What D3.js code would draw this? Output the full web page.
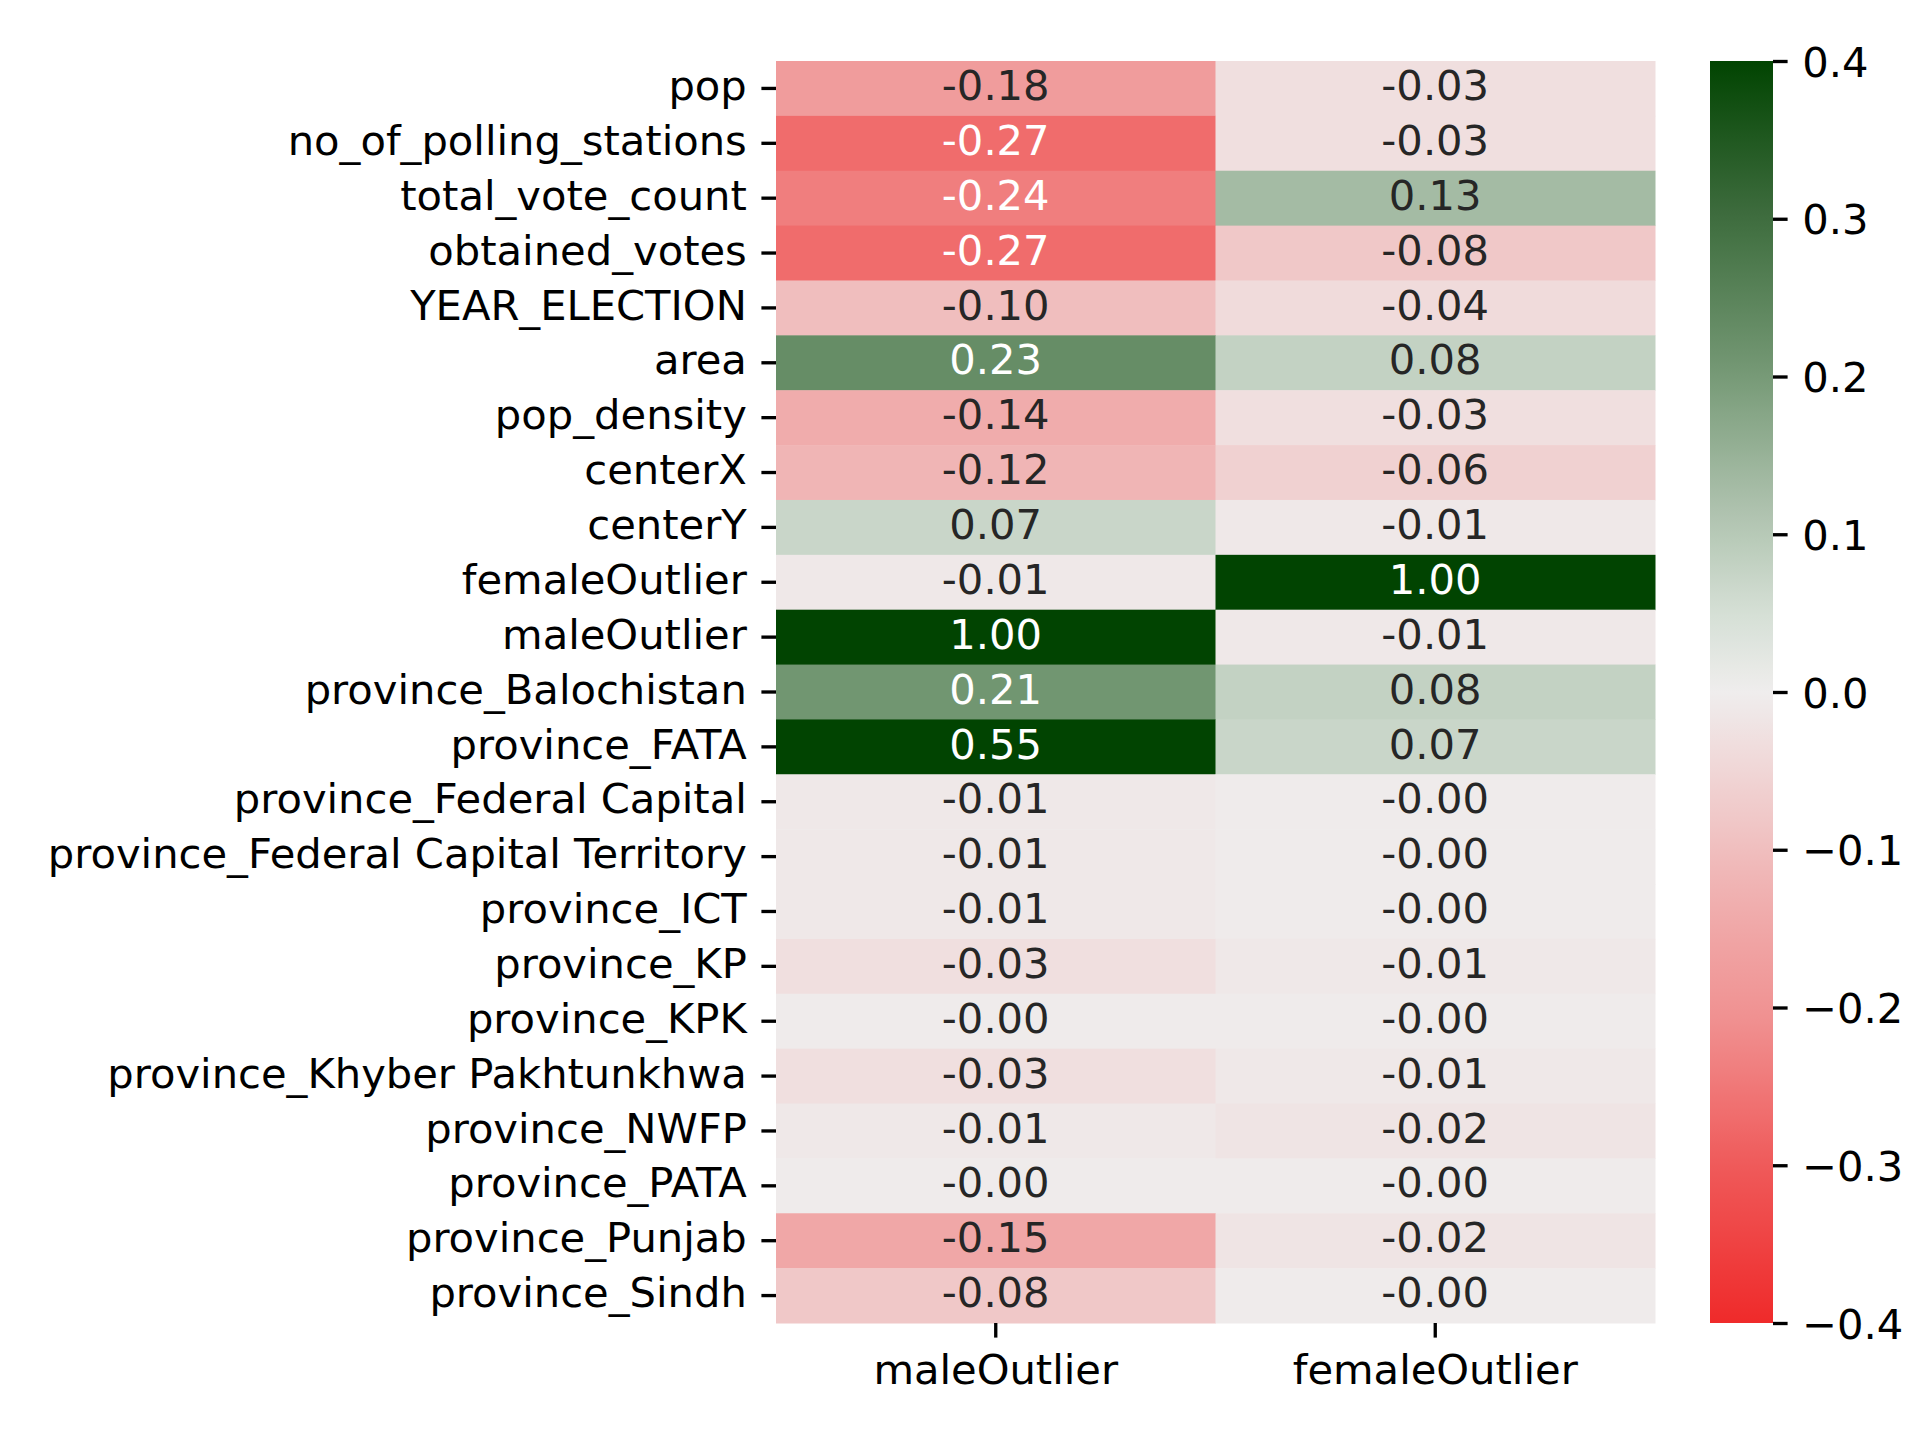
<!DOCTYPE html>
<html>
<head>
<meta charset="utf-8">
<script src="https://cdn.jsdelivr.net/npm/d3@7"></script>
<style>
  body { margin: 0; background: #fff; }
  svg text { font-family: "DejaVu Sans", sans-serif; }
</style>
</head>
<body>
<div id="chart"></div>
<script>
// row labels, top to bottom
const features = [
  'pop', 'no_of_polling_stations', 'total_vote_count', 'obtained_votes',
  'YEAR_ELECTION', 'area', 'pop_density', 'centerX', 'centerY',
  'femaleOutlier', 'maleOutlier', 'province_Balochistan', 'province_FATA',
  'province_Federal Capital', 'province_Federal Capital Territory',
  'province_ICT', 'province_KP', 'province_KPK', 'province_Khyber Pakhtunkhwa',
  'province_NWFP', 'province_PATA', 'province_Punjab', 'province_Sindh'
];
const columns = ['maleOutlier', 'femaleOutlier'];

const maleCorr = [-0.18, -0.27, -0.24, -0.27, -0.10, 0.23, -0.14, -0.12, 0.07,
  -0.01, 1.00, 0.21, 0.55, -0.01, -0.01, -0.01, -0.03, -0.004, -0.03, -0.01,
  -0.004, -0.15, -0.08];
const femaleCorr = [-0.03, -0.03, 0.13, -0.08, -0.04, 0.08, -0.03, -0.06, -0.01,
  1.00, -0.01, 0.08, 0.07, -0.004, -0.004, -0.004, -0.01, -0.004, -0.01, -0.02,
  -0.004, -0.02, -0.004];

const colorbarTicks = [-0.4, -0.3, -0.2, -0.1, 0.0, 0.1, 0.2, 0.3, 0.4];

const W = 1920, H = 1440;
const fontSize = 41.67;
const tickLen = 14.6, tickPad = 14.6;
const plot = {left: 776, right: 1655, top: 61, bottom: 1323};
const cbar = {left: 1710, right: 1773};

const svg = d3.select('#chart').append('svg')
  .attr('width', W).attr('height', H);
svg.append('rect').attr('width', W).attr('height', H).attr('fill', '#fff');

const x = d3.scaleBand().domain(columns).range([plot.left, plot.right]);
const y = d3.scaleBand().domain(features).range([plot.top, plot.bottom]);

// red -> light grey -> dark green, values clipped at +-0.4
const color = d3.scaleLinear()
  .domain([-0.4, -0.3, -0.25, -0.2, -0.15, -0.1, -0.05, 0, 0.05, 0.1, 0.15, 0.2, 0.25, 0.3, 0.4])
  .range(['#ef2a2a', '#ef5a5a', '#f07878', '#f09494', '#f0a7a7', '#f0bebe', '#f0d6d6', '#efeded',
          '#d5dfd5', '#b7c9b7', '#98b298', '#779a77', '#5a845a', '#3f6d3f', '#014401'])
  .interpolate(d3.interpolateRgb)
  .clamp(true);

const cells = [];
features.forEach((f, i) => {
  cells.push({row: f, col: columns[0], v: maleCorr[i]});
  cells.push({row: f, col: columns[1], v: femaleCorr[i]});
});

function luminance(c) {
  const rgb = d3.rgb(c);
  const ch = [rgb.r, rgb.g, rgb.b].map(v => {
    v = v / 255;
    return v <= 0.03928 ? v / 12.92 : Math.pow((v + 0.055) / 1.055, 2.4);
  });
  return 0.2126 * ch[0] + 0.7152 * ch[1] + 0.0722 * ch[2];
}

const g = svg.append('g');
g.selectAll('rect.cell')
  .data(cells)
  .join('rect')
  .attr('class', 'cell')
  .attr('x', d => x(d.col))
  .attr('y', d => y(d.row))
  .attr('width', x.bandwidth() + 0.5)
  .attr('height', y.bandwidth() + 0.5)
  .attr('fill', d => color(d.v));

g.selectAll('text.annot')
  .data(cells)
  .join('text')
  .attr('class', 'annot')
  .attr('x', d => x(d.col) + x.bandwidth() / 2)
  .attr('y', d => y(d.row) + y.bandwidth() / 2)
  .attr('dy', '0.28em')
  .attr('text-anchor', 'middle')
  .attr('font-size', fontSize)
  .attr('fill', d => luminance(color(d.v)) > 0.408 ? '#262626' : '#ffffff')
  .text(d => d.v.toFixed(2));

// y axis
const yAxis = svg.append('g');
features.forEach(f => {
  const cy = y(f) + y.bandwidth() / 2;
  yAxis.append('line')
    .attr('x1', plot.left - tickLen).attr('x2', plot.left)
    .attr('y1', cy).attr('y2', cy)
    .attr('stroke', '#000').attr('stroke-width', 3.33);
  yAxis.append('text')
    .attr('x', plot.left - tickLen - tickPad)
    .attr('y', cy).attr('dy', '0.28em')
    .attr('text-anchor', 'end')
    .attr('font-size', fontSize)
    .attr('fill', '#000')
    .text(f);
});

// x axis
const xAxis = svg.append('g');
columns.forEach(c => {
  const cx = x(c) + x.bandwidth() / 2;
  xAxis.append('line')
    .attr('x1', cx).attr('x2', cx)
    .attr('y1', plot.bottom).attr('y2', plot.bottom + tickLen)
    .attr('stroke', '#000').attr('stroke-width', 3.33);
  xAxis.append('text')
    .attr('x', cx).attr('y', plot.bottom + tickLen + tickPad)
    .attr('dy', '0.76em')
    .attr('text-anchor', 'middle')
    .attr('font-size', fontSize)
    .attr('fill', '#000')
    .text(c);
});

// colorbar
const cy = d3.scaleLinear().domain([-0.4, 0.4]).range([plot.bottom, plot.top]);
const grad = svg.append('defs').append('linearGradient')
  .attr('id', 'cbar-grad')
  .attr('x1', 0).attr('y1', 1).attr('x2', 0).attr('y2', 0);
grad.selectAll('stop')
  .data(d3.range(0, 1.0001, 0.02))
  .join('stop')
  .attr('offset', d => (d * 100) + '%')
  .attr('stop-color', d => color(-0.4 + d * 0.8));

svg.append('rect')
  .attr('x', cbar.left).attr('y', plot.top)
  .attr('width', cbar.right - cbar.left)
  .attr('height', plot.bottom - plot.top)
  .attr('fill', 'url(#cbar-grad)');

const cAxis = svg.append('g')
  .attr('transform', `translate(${cbar.right},0)`)
  .call(d3.axisRight(cy).tickValues(colorbarTicks).tickFormat(d3.format('.1f'))
    .tickSize(tickLen).tickPadding(tickPad));
cAxis.select('.domain').remove();
cAxis.selectAll('line').attr('stroke', '#000').attr('stroke-width', 3.33);
cAxis.selectAll('text')
  .attr('font-size', fontSize)
  .attr('font-family', '"DejaVu Sans", sans-serif')
  .attr('dy', '0.36em')
  .attr('fill', '#000');
</script>
</body>
</html>
